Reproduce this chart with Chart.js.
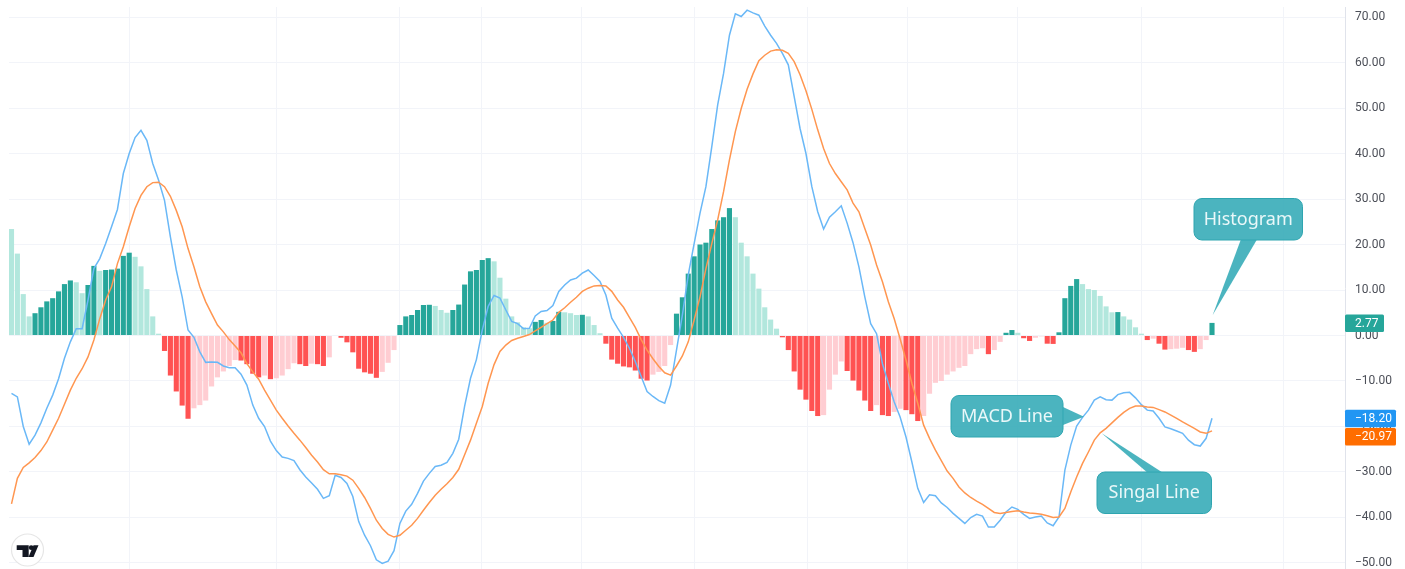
<!DOCTYPE html>
<html>
<head>
<meta charset="utf-8">
<title>MACD</title>
<script src="https://cdn.jsdelivr.net/npm/chart.js@4"></script>
<style>
  html, body { margin: 0; padding: 0; background: #fff; }
  canvas { display: block; }
</style>
</head>
<body>
<canvas id="chart" width="1405" height="569"></canvas>
<script>
const histValues = [
  23.4,18,9.1,4.2,4.9,6.2,7.5,8.2,9.7,11.3,
  12.1,11.7,9.3,11.1,15.3,14.2,14.4,14.5,14.7,17.5,
  18.2,17.3,15.2,10.2,4.2,0.4,-3.4,-8.8,-12.3,-15.4,
  -18.3,-16,-15.3,-14.3,-11.2,-9.2,-7.9,-6.7,-5.4,-5.5,
  -6.3,-8.4,-9.2,-8.8,-9.6,-9.4,-8.8,-7.4,-6.1,-6.3,
  -6.7,-6.2,-6.3,-6.7,-4.8,-0.1,-0.5,-1.5,-3.7,-7.3,
  -8.1,-8.4,-9.3,-8,-6,-3.2,2.3,4.2,4.5,5.6,
  6.7,6.75,6.5,5.6,5,5.6,6.8,11.2,14.1,14.4,
  16.6,17,16.3,12.7,8.1,4.2,2.9,1.8,1.6,3,
  3.4,2.8,3.2,5.2,5.1,4.9,4.5,4.55,4.2,2.3,
  0.5,-1.8,-5.3,-6.2,-6.8,-7,-7.7,-9.5,-9.9,-8.6,
  -8,-6.7,-2.1,4.8,8.4,13.6,17.4,20,20.4,23.4,
  25.3,26,28,26,20.4,17.4,13.6,10.3,6.2,3.5,
  1.5,-0.4,-3.2,-7.9,-11.9,-14.1,-16.6,-17.7,-17.5,-11.9,
  -8.6,-5.7,-7.8,-9.9,-12.1,-14.3,-16.6,-15.3,-17.5,-17.7,
  -16.8,-16.1,-16.4,-17.3,-18.8,-17.7,-12.8,-10.4,-10,-8.6,
  -7.9,-7.1,-6.7,-4.1,-3,-2.8,-4.1,-3.2,-1.4,0.6,
  1.2,0.6,-0.6,-1.2,-0.5,-0.2,-1.8,-1.85,0.7,8.2,
  10.9,12.4,11.3,10.2,10,8.7,6.4,5.1,5.15,4.2,
  3.5,1.8,0.4,-1,-0.7,-1.8,-3.1,-3,-2.9,-2.7,
  -3.2,-3.6,-3,-1,2.77
];

const macdValues = [
  -12.7,-13.5,-20,-23.9,-21.9,-19.2,-16,-13.1,-9.5,-5,
  -1.4,1.5,1.5,7.8,14.7,16.9,20.2,23.9,27.7,35.6,
  40,43.5,45.1,42.9,37.8,34.1,29.7,21.7,14.4,8.5,
  1.2,-0.4,-3.6,-5.9,-5.8,-5.9,-6.7,-7.1,-7.1,-8.5,
  -10.9,-15.3,-18.2,-20,-23.2,-25.3,-26.7,-27,-27.5,-29.5,
  -31.1,-32.4,-33.8,-35.8,-35.2,-30.7,-31.2,-32.5,-35.4,-40.9,
  -43.9,-46.2,-49.3,-50.1,-49.6,-47.3,-41.3,-38.6,-37.1,-34.7,
  -32,-30.3,-28.8,-28.5,-27.9,-25.9,-22.8,-15.5,-9.4,-5.3,
  1.2,6.4,8.8,8.2,5.6,3.1,2.6,1.5,1.6,4.3,
  5.3,5.5,6.6,9.7,11.1,12.2,12.6,13.7,14.4,13.2,
  11.9,8.9,3.8,1.6,-0.4,-2.8,-5.7,-9,-12.3,-13.4,
  -14.3,-14.9,-10.9,-3.2,4.5,13.3,20.2,26.9,32.7,41.5,
  50.7,57.6,66,70.7,70.1,71.5,70.9,70.4,68,66,
  64.2,62,59.5,52.5,45.5,40,32.7,27.2,23.4,26,
  27.2,28.5,24.7,20.4,15.1,8.5,2.6,0.4,-6.2,-10.5,
  -14.6,-17.9,-22.3,-27.8,-33.6,-36.7,-35,-35.2,-36.8,-37.8,
  -39.1,-40.2,-41.3,-40,-39.3,-39.7,-42.1,-42.1,-40.6,-38.8,
  -37.7,-38.2,-39.3,-40.2,-39.9,-39.7,-41.2,-41.8,-39.9,-29.6,
  -24.1,-19.9,-18,-16.4,-14.2,-13.5,-14.1,-14.2,-13,-12.6,
  -12.5,-13.7,-15.2,-16.4,-16.6,-18.2,-20.1,-20.5,-21,-21.5,
  -23,-24,-24.3,-22.6,-18.2
];

const signalValues = [
  -37,-31.4,-29,-28,-26.8,-25.3,-23.4,-20.8,-18.2,-15.1,
  -12,-9.4,-7.3,-4.7,-1,3.7,7.8,10.7,15.8,19.5,
  23.9,27.9,30.8,32.7,33.6,33.7,32.7,30.6,27.5,23.9,
  19.1,15.1,10.7,7.4,4.8,2.3,0.8,-0.9,-2.3,-3.8,
  -6.2,-8,-9.6,-12,-14.2,-16.4,-18.2,-19.9,-21.5,-23,
  -24.6,-26.3,-27.8,-29.5,-30.4,-30.4,-30.6,-30.9,-31.8,-33.6,
  -35.6,-38,-40.6,-42.4,-43.7,-44.3,-43.9,-42.8,-41.7,-40.2,
  -38.4,-36.7,-35.1,-33.8,-32.6,-31.2,-29.4,-26.2,-23,-19.3,
  -15.6,-10.5,-6.4,-3.5,-2.1,-1.1,-0.6,-0.2,0.2,1,
  1.8,2.6,3.4,5.1,6.1,7.3,8.4,9.7,10.4,10.9,
  11,10.9,9.7,7.8,6.2,4,1.8,-0.9,-3.2,-5.1,
  -6.8,-8.2,-8.7,-6.7,-4.5,-1.4,3.4,8.5,14.7,20.2,
  25.4,31.6,38.6,44.8,49.9,54.1,57.5,60.4,61.6,62.5,
  62.8,62.7,62,60.2,57.3,53.8,49.7,45.2,41.1,37.8,
  35.6,33.8,32,29.1,27.2,23.5,19.9,15.5,11.8,7.4,
  3.7,-0.7,-5.4,-10.5,-14.9,-19.7,-22.6,-25.2,-27.5,-29.8,
  -31.4,-33.3,-34.6,-35.6,-36.4,-37.1,-38,-38.9,-39.1,-38.9,
  -38.7,-38.5,-38.8,-39,-39.1,-39.3,-39.6,-40,-39.9,-38,
  -34.4,-31.1,-28.1,-25.6,-23,-21.4,-20.4,-19.2,-18,-16.9,
  -16,-15.5,-15.5,-15.7,-15.8,-16.3,-16.8,-17.5,-18.2,-19,
  -19.7,-20.4,-21.2,-21.5,-20.97
];

// bar index of each vertical grid line (the time axis has no labels in this crop)
const timeGrid = [20.05, 44.95, 66, 79.95, 96.9, 116.1, 135.2, 152.2, 171, 192.1, 216.2];
const yTicks = [70, 60, 50, 40, 30, 20, 10, 0, -10, -20, -30, -40, -50];

const FONT = 'Roboto, "Noto Sans", sans-serif';
const CALLOUT_FONT = '"Noto Sans", sans-serif';

// the minus sign on the axis is the long one
function fmt(v) {
    return (v < 0 ? '\u2212' : '') + Math.abs(v).toFixed(2);
}

// dark = momentum growing, light = fading, same rule as the TradingView MACD
function barColor(i) {
    const v = histValues[i];
    const prev = i === 0 ? Infinity : histValues[i - 1];
    if (v >= 0) return v > prev ? '#26a69a' : '#b2e7dd';
    return v < prev ? '#ff5252' : '#ffcdd2';
}

const toPoints = (arr) => arr.map((y, x) => ({ x, y }));

function roundBox(ctx, x, y, w, h, r) {
    ctx.beginPath();
    ctx.roundRect(x, y, w, h, r);
}

function drawCallout(ctx, box, tail, text) {
    ctx.save();
    ctx.fillStyle = 'rgba(50,170,182,0.88)';
    ctx.strokeStyle = '#2fa5b0';
    ctx.lineWidth = 1;
    roundBox(ctx, box[0], box[1], box[2], box[3], 8);
    ctx.fill();
    ctx.stroke();
    ctx.beginPath();
    ctx.moveTo(tail[0][0], tail[0][1]);
    ctx.lineTo(tail[1][0], tail[1][1]);
    ctx.lineTo(tail[2][0], tail[2][1]);
    ctx.closePath();
    ctx.fill();
    ctx.fillStyle = '#eaf8f9';
    ctx.font = '18px ' + CALLOUT_FONT;
    ctx.textAlign = 'center';
    ctx.textBaseline = 'middle';
    ctx.fillText(text, box[0] + box[2] / 2, box[1] + box[3] / 2 + 0.5);
    ctx.restore();
}

function drawPriceTag(ctx, x, y, w, h, color, text) {
    ctx.save();
    ctx.fillStyle = color;
    roundBox(ctx, x, y, w, h, 1.5);
    ctx.fill();
    ctx.fillStyle = '#fff';
    ctx.font = '12px ' + FONT;
    ctx.textAlign = 'left';
    ctx.textBaseline = 'middle';
    ctx.fillText(text, x + 10, y + h / 2 + 0.5);
    ctx.restore();
}

function drawLogo(ctx) {
    ctx.save();
    ctx.beginPath();
    ctx.arc(27.5, 550, 16, 0, Math.PI * 2);
    ctx.fillStyle = '#fff';
    ctx.fill();
    ctx.strokeStyle = '#e6e6e6';
    ctx.lineWidth = 1.2;
    ctx.stroke();
    ctx.fillStyle = '#131722';
    ctx.beginPath();
    ctx.moveTo(16.7, 545.3);
    ctx.lineTo(28.7, 545.3);
    ctx.lineTo(28.7, 557);
    ctx.lineTo(22.5, 557);
    ctx.lineTo(22.5, 550);
    ctx.lineTo(16.7, 550);
    ctx.closePath();
    ctx.fill();
    ctx.beginPath();
    ctx.arc(31.2, 547.7, 2.4, 0, Math.PI * 2);
    ctx.fill();
    ctx.beginPath();
    ctx.moveTo(33.5, 545.3);
    ctx.lineTo(38.5, 545.3);
    ctx.lineTo(33.5, 557);
    ctx.lineTo(28.5, 557);
    ctx.closePath();
    ctx.fill();
    ctx.restore();
}

const overlayPlugin = {
    id: 'overlay',
    afterDraw(chart) {
        const ctx = chart.ctx;
        const yScale = chart.scales.y;
        const right = chart.chartArea.right;
        const last = histValues.length - 1;

        drawPriceTag(ctx, right, yScale.getPixelForValue(histValues[last]) - 8.5, 39, 17.5, '#26a69a', fmt(histValues[last]));
        drawPriceTag(ctx, right, yScale.getPixelForValue(macdValues[last]) - 8.5, 51, 17.5, '#2196f3', fmt(macdValues[last]));
        // signal tag gets pushed down a bit so it clears the macd tag
        drawPriceTag(ctx, right, yScale.getPixelForValue(signalValues[last]) - 3, 51, 17.5, '#ff6d00', fmt(signalValues[last]));

        drawCallout(ctx, [951, 395.5, 112, 41.5], [[1063, 407], [1084, 416.7], [1063, 425]], 'MACD Line');
        drawCallout(ctx, [1097, 472, 114.5, 41.5], [[1146.7, 472], [1101.7, 433.3], [1161.7, 472]], 'Singal Line');
        drawCallout(ctx, [1194, 198.5, 108.5, 41.5], [[1240.7, 240], [1212.7, 315], [1256.7, 240]], 'Histogram');

        drawLogo(ctx);
    }
};

new Chart(document.getElementById('chart'), {
    type: 'bar',
    data: {
        datasets: [
            {
                type: 'line',
                label: 'MACD',
                data: toPoints(macdValues),
                borderColor: '#6ab8f7',
                borderWidth: 1.5,
                pointRadius: 0,
                tension: 0,
                order: 1
            },
            {
                type: 'line',
                label: 'Signal',
                data: toPoints(signalValues),
                borderColor: '#ff9650',
                borderWidth: 1.5,
                pointRadius: 0,
                tension: 0,
                order: 0
            },
            {
                label: 'Histogram',
                data: toPoints(histValues),
                backgroundColor: histValues.map((v, i) => barColor(i)),
                categoryPercentage: 1,
                barPercentage: 0.87,
                order: 2
            }
        ]
    },
    options: {
        responsive: false,
        animation: false,
        layout: { padding: { left: 9, top: 7, right: 0, bottom: 0 } },
        plugins: {
            legend: { display: false },
            tooltip: { enabled: false }
        },
        scales: {
            x: {
                type: 'linear',
                offset: false,
                min: -0.425,
                max: 226.6,
                afterBuildTicks: (axis) => { axis.ticks = timeGrid.map(value => ({ value })); },
                afterFit: (axis) => { axis.height = 0; axis.paddingLeft = 0; axis.paddingRight = 0; },
                ticks: { display: false },
                border: { display: false },
                grid: { color: '#f2f4f9', offset: false, drawTicks: false }
            },
            y: {
                position: 'right',
                min: -51.32,
                max: 72.2,
                afterBuildTicks: (axis) => { axis.ticks = yTicks.map(value => ({ value })); },
                // tick labels sit inside the plot height, no extra room needed for them
                afterFit: (axis) => { axis.width = 60; axis.paddingTop = 0; axis.paddingBottom = 0; },
                ticks: {
                    color: '#4c4f58',
                    font: { family: FONT, size: 12 },
                    padding: 10,
                    callback: (v) => fmt(v)
                },
                border: { color: '#e0e3eb' },
                grid: { color: '#f2f4f9', drawTicks: false }
            }
        }
    },
    plugins: [overlayPlugin]
});
</script>
</body>
</html>
